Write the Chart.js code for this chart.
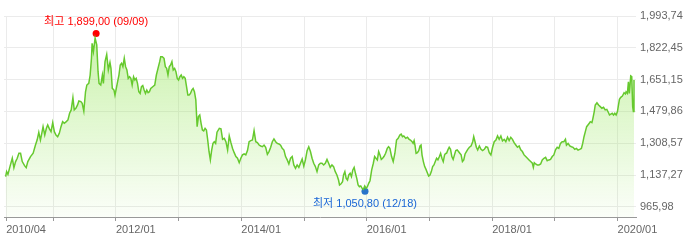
<!DOCTYPE html>
<html>
<head>
<meta charset="utf-8">
<script src="https://cdn.jsdelivr.net/npm/chart.js@4/dist/chart.umd.min.js"></script>
<style>
  html, body { margin: 0; padding: 0; background: #fff; }
  canvas { display: block; }
</style>
</head>
<body>
<canvas id="chart" width="700" height="243"></canvas>
<script>
// price dates as decimal years
const dates = [
  2010.241, 2010.257, 2010.278, 2010.310, 2010.347, 2010.373, 2010.400, 2010.426, 2010.453, 2010.479,
  2010.506, 2010.543, 2010.569, 2010.595, 2010.638, 2010.680, 2010.717, 2010.743, 2010.770, 2010.796,
  2010.823, 2010.838, 2010.865, 2010.891, 2010.912, 2010.939, 2010.965, 2010.992, 2011.018, 2011.044,
  2011.071, 2011.097, 2011.124, 2011.150, 2011.177, 2011.208, 2011.235, 2011.261, 2011.287, 2011.314,
  2011.335, 2011.361, 2011.388, 2011.409, 2011.441, 2011.462, 2011.488, 2011.515, 2011.536, 2011.567,
  2011.589, 2011.610, 2011.620, 2011.641, 2011.668, 2011.694, 2011.715, 2011.731, 2011.758, 2011.784,
  2011.800, 2011.826, 2011.853,
  2011.879, 2011.905, 2011.921, 2011.942, 2011.969, 2011.985, 2012.006, 2012.027, 2012.048, 2012.069,
  2012.090, 2012.111, 2012.133, 2012.154, 2012.175, 2012.196, 2012.217, 2012.238, 2012.259, 2012.281,
  2012.302, 2012.323, 2012.344, 2012.365, 2012.386, 2012.407, 2012.428, 2012.450, 2012.471, 2012.492,
  2012.513, 2012.534, 2012.555, 2012.587, 2012.619, 2012.645, 2012.671, 2012.698, 2012.714, 2012.740,
  2012.767, 2012.788, 2012.809, 2012.830, 2012.851, 2012.872, 2012.893, 2012.914, 2012.936, 2012.957,
  2012.978, 2012.999, 2013.020, 2013.041, 2013.062, 2013.083, 2013.105, 2013.126, 2013.147, 2013.168,
  2013.189, 2013.210, 2013.231, 2013.252, 2013.274, 2013.295, 2013.316, 2013.337, 2013.358, 2013.379,
  2013.400, 2013.422, 2013.443, 2013.464, 2013.485, 2013.506, 2013.527, 2013.548, 2013.569, 2013.590,
  2013.612,
  2013.649, 2013.675, 2013.701, 2013.728, 2013.754, 2013.781, 2013.807, 2013.834, 2013.860, 2013.886,
  2013.913, 2013.939, 2013.966, 2013.992, 2014.018, 2014.045, 2014.071, 2014.098, 2014.124, 2014.151,
  2014.177, 2014.203, 2014.230, 2014.256, 2014.283, 2014.309, 2014.336, 2014.362, 2014.388, 2014.415,
  2014.441, 2014.468, 2014.494, 2014.520, 2014.547, 2014.573, 2014.600, 2014.626, 2014.652, 2014.679,
  2014.705, 2014.732, 2014.758, 2014.785, 2014.811, 2014.837, 2014.864, 2014.890, 2014.917, 2014.943,
  2014.970, 2014.996, 2015.022, 2015.049, 2015.075, 2015.102, 2015.128, 2015.154, 2015.181, 2015.207,
  2015.234, 2015.260, 2015.286,
  2015.313, 2015.339, 2015.366, 2015.392, 2015.418, 2015.445, 2015.471, 2015.498, 2015.524, 2015.550,
  2015.566, 2015.587, 2015.614, 2015.630, 2015.651, 2015.672, 2015.693, 2015.714, 2015.735, 2015.756,
  2015.778, 2015.799, 2015.820, 2015.841, 2015.862, 2015.883, 2015.904, 2015.926, 2015.947, 2015.968,
  2015.989, 2016.010, 2016.031, 2016.052, 2016.079, 2016.105, 2016.126, 2016.147, 2016.169, 2016.190,
  2016.211, 2016.232, 2016.253, 2016.274, 2016.301, 2016.327, 2016.348, 2016.369, 2016.396, 2016.422,
  2016.449,
  2016.475, 2016.501, 2016.528, 2016.549, 2016.570, 2016.591, 2016.623, 2016.649, 2016.676, 2016.697,
  2016.723, 2016.739, 2016.755, 2016.771, 2016.787, 2016.808, 2016.829, 2016.850, 2016.866, 2016.882,
  2016.903, 2016.924, 2016.945, 2016.966, 2016.987, 2017.009, 2017.030, 2017.051, 2017.072, 2017.093,
  2017.114, 2017.135, 2017.157, 2017.178, 2017.199, 2017.220, 2017.241, 2017.257,
  2017.273, 2017.294, 2017.315, 2017.336, 2017.357, 2017.378, 2017.399, 2017.420, 2017.442, 2017.463,
  2017.484, 2017.505, 2017.526, 2017.547, 2017.568, 2017.590, 2017.611, 2017.637, 2017.663, 2017.690,
  2017.706, 2017.727, 2017.748, 2017.769, 2017.796, 2017.822, 2017.848, 2017.875, 2017.901, 2017.928,
  2017.954, 2017.980, 2018.007, 2018.033, 2018.060, 2018.086, 2018.112, 2018.139, 2018.165, 2018.192,
  2018.218, 2018.245, 2018.271, 2018.297, 2018.324, 2018.350, 2018.377, 2018.403, 2018.430, 2018.456,
  2018.482, 2018.509, 2018.535, 2018.562, 2018.588, 2018.614,
  2018.641, 2018.657, 2018.672, 2018.693, 2018.720, 2018.746, 2018.773, 2018.799, 2018.826, 2018.852,
  2018.878, 2018.905, 2018.931, 2018.958, 2018.984, 2019.010, 2019.037, 2019.063, 2019.090, 2019.116,
  2019.143, 2019.169, 2019.185, 2019.211, 2019.238, 2019.264, 2019.290, 2019.317, 2019.343, 2019.370,
  2019.396, 2019.423, 2019.444, 2019.465, 2019.486, 2019.507, 2019.528, 2019.549,
  2019.565, 2019.591, 2019.607, 2019.628, 2019.644, 2019.671, 2019.697, 2019.724, 2019.750, 2019.776,
  2019.803, 2019.829, 2019.856, 2019.871, 2019.893, 2019.914, 2019.935, 2019.956, 2019.977, 2019.998,
  2020.019, 2020.030, 2020.051, 2020.077, 2020.104, 2020.125, 2020.136, 2020.157, 2020.173, 2020.188,
  2020.210, 2020.226, 2020.241, 2020.252, 2020.262
];

const prices = [
  1129, 1156, 1141, 1183, 1228, 1177, 1210, 1228, 1255, 1255,
  1210, 1188, 1177, 1210, 1237, 1255, 1299, 1326, 1368, 1326,
  1371, 1398, 1353, 1389, 1407, 1386, 1371, 1420, 1371, 1353,
  1344, 1362, 1398, 1425, 1416, 1425, 1434, 1470, 1488, 1554,
  1488, 1497, 1515, 1536, 1533, 1524, 1482, 1586, 1622, 1631,
  1676, 1766, 1847, 1802, 1874, 1838, 1694, 1631, 1622, 1676,
  1631, 1748, 1787,
  1703, 1744, 1712, 1604, 1595, 1568, 1604, 1640, 1676, 1730,
  1739, 1721, 1766, 1721, 1703, 1658, 1667, 1658, 1622, 1667,
  1649, 1658, 1631, 1586, 1577, 1613, 1619, 1595, 1577, 1595,
  1581, 1586, 1604, 1613, 1622, 1676, 1712, 1748, 1775, 1775,
  1766, 1721, 1712, 1676, 1721, 1730, 1748, 1703, 1712, 1694,
  1658, 1649, 1667, 1676, 1658, 1667, 1658, 1613, 1568, 1568,
  1577, 1595, 1604, 1586, 1542, 1398, 1452, 1461, 1416, 1380,
  1375, 1389, 1380, 1326, 1263, 1219, 1272, 1308, 1317, 1308,
  1368,
  1389, 1386, 1330, 1335, 1317, 1272, 1348, 1312, 1281, 1258,
  1237, 1228, 1204, 1228, 1246, 1251, 1246, 1269, 1317, 1323,
  1326, 1377, 1317, 1312, 1299, 1294, 1290, 1299, 1287, 1249,
  1264, 1287, 1317, 1332, 1317, 1308, 1305, 1298, 1281, 1272,
  1237, 1219, 1197, 1228, 1237, 1192, 1174, 1192, 1179, 1201,
  1224, 1186, 1219, 1269, 1290, 1264, 1228, 1201, 1183, 1156,
  1192, 1201, 1201,
  1192, 1201, 1222, 1201, 1179, 1192, 1183, 1156, 1138, 1111,
  1084, 1089, 1102, 1138, 1156, 1120, 1111, 1138, 1147, 1129,
  1165, 1179, 1147, 1120, 1084, 1075, 1079, 1066, 1061, 1079,
  1066, 1075, 1093, 1107, 1165, 1201, 1237, 1228, 1219, 1264,
  1246, 1222, 1228, 1237, 1255, 1281, 1290, 1281, 1237, 1210,
  1255,
  1326, 1335, 1353, 1358, 1344, 1348, 1335, 1341, 1330, 1326,
  1317, 1308, 1323, 1294, 1254, 1258, 1269, 1294, 1299, 1245,
  1210, 1183, 1168, 1150, 1132, 1138, 1156, 1183, 1192, 1210,
  1228, 1219, 1236, 1254, 1228, 1210, 1245, 1254,
  1255, 1273, 1287, 1276, 1237, 1222, 1246, 1269, 1273, 1264,
  1255, 1246, 1210, 1219, 1251, 1264, 1276, 1287, 1294, 1317,
  1344, 1317, 1287, 1273, 1294, 1276, 1269, 1276, 1290, 1287,
  1258, 1246, 1287, 1317, 1326, 1348, 1330, 1348, 1321, 1330,
  1317, 1341, 1323, 1341, 1330, 1312, 1299, 1287, 1294, 1273,
  1264, 1246, 1237, 1228, 1219, 1210,
  1201, 1179, 1204, 1197, 1192, 1192, 1197, 1219, 1228, 1233,
  1215, 1219, 1222, 1237, 1246, 1273, 1287, 1281, 1308, 1317,
  1317, 1330, 1299, 1308, 1294, 1290, 1287, 1276, 1281, 1272,
  1276, 1281, 1308, 1344, 1371, 1398, 1407, 1416,
  1425, 1420, 1443, 1479, 1515, 1527, 1515, 1506, 1497, 1502,
  1488, 1491, 1473, 1461, 1466, 1470, 1461, 1470, 1461, 1479,
  1524, 1545, 1556, 1563, 1581, 1574, 1586, 1577, 1640, 1577,
  1671, 1667, 1506, 1479, 1649
];

// highest / lowest markers
const markerDates = [2011.684, 2015.972];
const markerValues = [1899.00, 1050.80];
const markerLabels = ['최고 1,899,00 (09/09)', '최저 1,050,80 (12/18)'];
const markerColors = ['#ff0000', '#1a66d6'];

const yTickValues = [965.98, 1137.27, 1308.57, 1479.86, 1651.15, 1822.45, 1993.74];
const yTickLabels = ['965,98', '1,137,27', '1,308,57', '1,479,86', '1,651,15', '1,822,45', '1,993,74'];

const xTickValues = [2010.25, 2011, 2012, 2013, 2014, 2015, 2016, 2017, 2018, 2019, 2020];
const xTickLabels = ['2010/04', '', '2012/01', '', '2014/01', '', '2016/01', '', '2018/01', '', '2020/01'];

const FONT = '"Liberation Sans", "Noto Sans CJK KR", Arial, sans-serif';

const markerLabelPlugin = {
  id: 'markerLabels',
  afterDatasetsDraw(chart) {
    const meta = chart.getDatasetMeta(1);
    const ctx = chart.ctx;
    ctx.save();
    ctx.font = '11px ' + FONT;
    ctx.textAlign = 'center';
    ctx.textBaseline = 'middle';
    meta.data.forEach((pt, i) => {
      ctx.fillStyle = markerColors[i];
      const dy = i === 0 ? -12 : 13;
      ctx.fillText(markerLabels[i], pt.x, pt.y + dy);
    });
    ctx.restore();
  }
};

const ctx = document.getElementById('chart');
new Chart(ctx, {
  type: 'line',
  data: {
    datasets: [
      {
        data: dates.map((d, i) => ({ x: d, y: prices[i] })),
        borderColor: '#66c92e',
        borderWidth: 1.5,
        pointRadius: 0,
        tension: 0,
        fill: 'start',
        backgroundColor: (c) => {
          const area = c.chart.chartArea;
          if (!area) return 'rgba(150,230,90,0.4)';
          const g = c.chart.ctx.createLinearGradient(0, area.top, 0, area.bottom);
          g.addColorStop(0, 'rgba(150,230,90,0.55)');
          g.addColorStop(1, 'rgba(150,230,90,0.04)');
          return g;
        }
      },
      {
        type: 'scatter',
        data: markerDates.map((d, i) => ({ x: d, y: markerValues[i] })),
        pointRadius: 3.5,
        pointBackgroundColor: markerColors,
        pointBorderColor: markerColors,
        pointBorderWidth: 0,
        clip: false
      }
    ]
  },
  options: {
    responsive: false,
    animation: false,
    devicePixelRatio: 1,
    layout: { padding: { top: 16, left: 0, right: 0, bottom: 0 } },
    plugins: {
      legend: { display: false },
      tooltip: { enabled: false }
    },
    scales: {
      x: {
        type: 'linear',
        min: 2010.215,
        max: 2020.294,
        afterBuildTicks: (scale) => {
          scale.ticks = xTickValues.map(v => ({ value: v }));
        },
        afterFit: (scale) => { scale.height = 26; },
        grid: {
          color: '#ebebeb',
          tickColor: '#999',
          tickLength: 4,
          drawOnChartArea: true
        },
        border: { display: true, color: '#999' },
        ticks: {
          autoSkip: false,
          maxRotation: 0,
          align: 'start',
          padding: 2,
          color: '#666',
          font: { family: FONT, size: 11 },
          callback: (v, i) => xTickLabels[i]
        }
      },
      y: {
        position: 'right',
        min: 911.7,
        max: 1993.74,
        afterBuildTicks: (scale) => {
          scale.ticks = yTickValues.map(v => ({ value: v }));
        },
        afterFit: (scale) => { scale.width = 64; },
        grid: { color: '#ebebeb', drawTicks: false },
        border: { display: false },
        ticks: {
          padding: 4,
          color: '#666',
          font: { family: FONT, size: 11 },
          callback: (v, i) => yTickLabels[i]
        }
      }
    }
  },
  plugins: [markerLabelPlugin]
});
</script>
</body>
</html>
